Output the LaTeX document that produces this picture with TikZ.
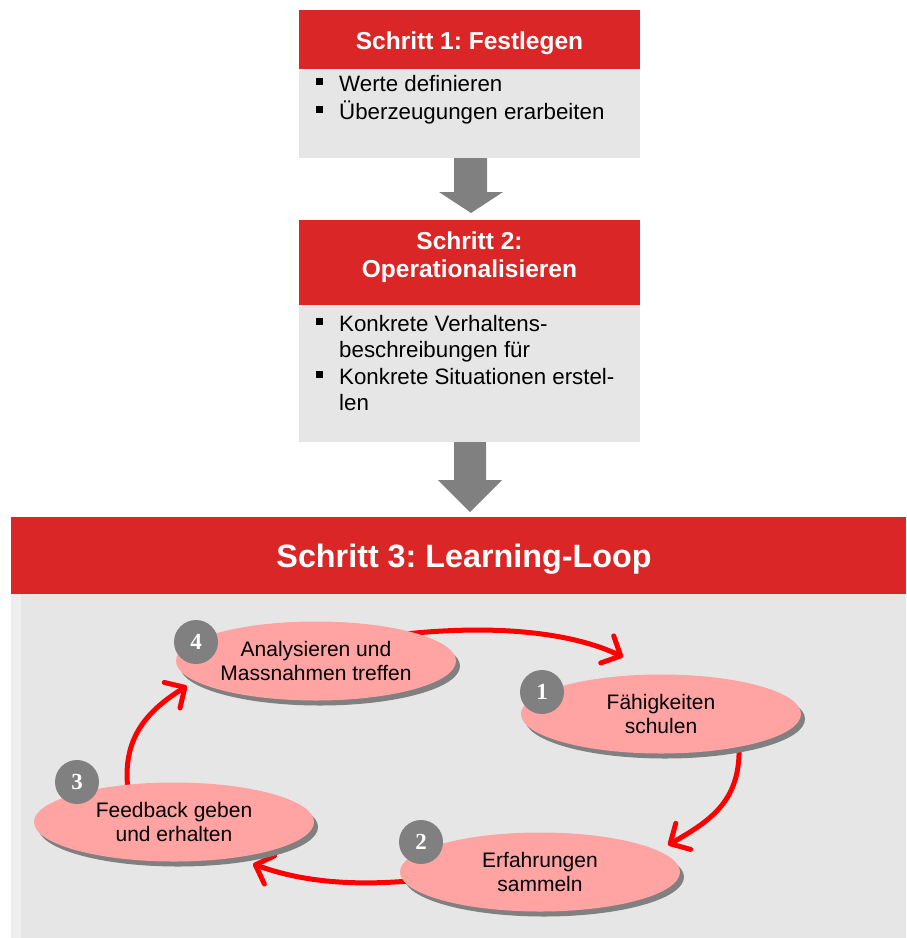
\documentclass[tikz,border=0pt]{standalone}
\usepackage{fontspec}
\setmainfont{Liberation Sans}
\newfontfamily\badgefont{Liberation Serif}
\usetikzlibrary{shapes.geometric,arrows.meta,shadows,calc}
\definecolor{hdrred}{RGB}{218,38,38}
\definecolor{panelgray}{RGB}{230,230,230}
\definecolor{stripgray}{RGB}{238,238,238}
\definecolor{pinkfill}{RGB}{255,163,163}
\definecolor{darkgray}{RGB}{128,128,128}
\definecolor{loopred}{RGB}{255,0,0}
\pgfdeclarelayer{bg}\pgfdeclarelayer{mid}\pgfsetlayers{bg,mid,main}
\newcommand\bul{\makebox[23pt][l]{\raisebox{6.5pt}{\rule{7pt}{7pt}}}}
\frenchspacing
\begin{document}
\frenchspacing
\begin{tikzpicture}[x=1pt,y=-1pt,
  hdr/.style={fill=hdrred, draw=none, inner sep=0, anchor=north west},
  bodybox/.style={fill=panelgray, draw=none, inner sep=0, anchor=north west},
  titletext/.style={text=white, font=\frenchspacing\bfseries\fontsize{24.5}{28}\selectfont, inner sep=0, anchor=base},
  itemtext/.style={text=black, font=\fontsize{22.3}{26}\selectfont, inner sep=0, anchor=base west},
  blockarrow/.style={fill=darkgray, draw=none},
  loopnode/.style={ellipse, fill=pinkfill, draw=none, minimum width=280, minimum height=79, inner sep=0,
     align=center, font=\fontsize{21}{24.5}\selectfont,
     drop shadow={shadow xshift=4pt, shadow yshift=-5pt, fill=darkgray, opacity=1}},
  badge/.style={circle, fill=darkgray, draw=none, minimum size=44, inner sep=0, text=white,
     font=\badgefont\bfseries\fontsize{23}{23}\selectfont},
  looparrow/.style={draw=loopred, line width=5pt, line cap=round,
     -{Straight Barb[length=15pt,width=30pt,line cap=round,line join=round]}}
]
\useasboundingbox (0,0) rectangle (906,938);

% Step 1
\node[hdr, minimum width=341, minimum height=59] (h1) at (299,10) {};
\node[titletext] (t1) at (469.5,49) {Schritt 1: Festlegen};
\node[bodybox, minimum width=341, minimum height=89] (b1) at (299,69) {};
\node[itemtext] (b1a) at (316,91) {\bul Werte definieren};
\node[itemtext] (b1b) at (316,119) {\bul Überzeugungen erarbeiten};

\fill[blockarrow] (454,158) -- (487,158) -- (487,192) -- (503,192) -- (471,213) -- (439,192) -- (454,192) -- cycle;

% Step 2
\node[hdr, minimum width=341, minimum height=85] (h2) at (299,220) {};
\node[titletext] (t2a) at (469.5,249) {Schritt 2:};
\node[titletext] (t2b) at (469.5,277) {Operationalisieren};
\node[bodybox, minimum width=341, minimum height=137] (b2) at (299,305) {};
\node[itemtext] (b2a) at (316,331) {\bul Konkrete Verhaltens-};
\node[itemtext] (b2b) at (339,357.5) {beschreibungen für};
\node[itemtext] (b2c) at (316,384) {\bul Konkrete Situationen erstel-};
\node[itemtext] (b2d) at (339,410) {len};

\fill[blockarrow] (454,442) -- (486,442) -- (486,480) -- (502,480) -- (470,512) -- (438,480) -- (454,480) -- cycle;

% Step 3
\begin{pgfonlayer}{bg}
\fill[stripgray] (11,594) rectangle (21,938);
\fill[panelgray] (21,594) rectangle (906,938);
\end{pgfonlayer}
\node[hdr, minimum width=895, minimum height=77] (h3) at (11,517) {};
\node[titletext, font=\frenchspacing\bfseries\fontsize{32.3}{36}\selectfont] (t3) at (464,567) {Schritt 3: Learning-Loop};

\node[loopnode] (e4) at (316,661) {Analysieren und\\Massnahmen treffen};
\node[loopnode] (e1) at (661,714) {Fähigkeiten\\schulen};
\node[loopnode] (e3) at (174,822) {Feedback geben\\und erhalten};
\node[loopnode] (e2) at (540,872) {Erfahrungen\\sammeln};

\node[badge] (n4) at (196,642) {4};
\node[badge] (n1) at (542,692) {1};
\node[badge] (n3) at (77,782) {3};
\node[badge] (n2) at (421,842) {2};

\coordinate (tA) at (623,657);
\coordinate (tB) at (668,845);
\coordinate (tC) at (253,864);
\coordinate (tD) at (187,686);

\begin{pgfonlayer}{mid}
\draw[looparrow] ($(e4.center)+(80,-26)$) .. controls (500,623) and (575,634) .. (tA);
\draw[looparrow] ($(e1.center)+(78,31)$) .. controls (741,800) and (712,820) .. (tB);
\draw[looparrow] ($(e2.center)+(-120,8)$) .. controls (340,888) and (292,878) .. (tC);
\draw[looparrow] ($(e3.center)+(-46,-32)$) .. controls (122,740) and (145,712) .. (tD);
\end{pgfonlayer}
\end{tikzpicture}
\end{document}
